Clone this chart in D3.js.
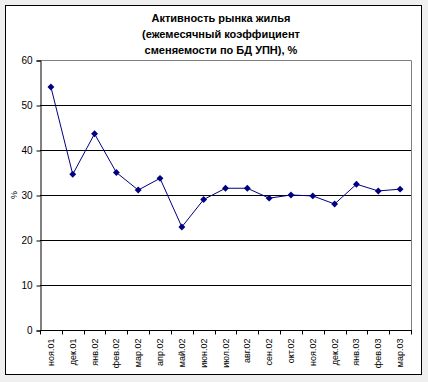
<!DOCTYPE html>
<html>
<head>
<meta charset="utf-8">
<script src="https://cdn.jsdelivr.net/npm/d3@7"></script>
<style>
  body { margin: 0; background: #efefef; }
  svg { display: block; font-family: Arial, "Liberation Sans", sans-serif; }
</style>
</head>
<body>
<svg id="chart" width="428" height="382"></svg>
<script>
// months on the x axis
const months = ["ноя.01","дек.01","янв.02","фев.02","мар.02","апр.02","май.02","июн.02","июл.02",
  "авг.02","сен.02","окт.02","ноя.02","дек.02","янв.03","фев.03","мар.03"]
// monthly turnover coefficient, %
const rates = [54, 34.6, 43.6, 35, 31.1, 33.7, 22.9, 29, 31.5, 31.5, 29.3, 30, 29.8, 28, 32.4, 30.9, 31.3]
const yTicks = [0, 10, 20, 30, 40, 50, 60]
const titleLines = ["Активность рынка жилья", "(ежемесячный коэффициент", "сменяемости по БД УПН), %"]

const svg = d3.select("#chart")
const pLeft = 40, pRight = 411, pTop = 60, pBottom = 330

// chart frame
svg.append("rect").attr("x", 5.5).attr("y", 5.5).attr("width", 416).attr("height", 369)
  .attr("fill", "#fff").attr("stroke", "#000")

const x = d3.scaleBand().domain(months).range([pLeft, pRight])
const y = d3.scaleLinear().domain([0, 60]).range([pBottom, pTop])

// gridlines
svg.append("g").selectAll("line").data(yTicks.filter(d => d > 0 && d < 60)).enter()
  .append("line")
  .attr("x1", pLeft).attr("x2", pRight)
  .attr("y1", d => Math.round(y(d)) + 0.5).attr("y2", d => Math.round(y(d)) + 0.5)
  .attr("stroke", "#000")

// plot border top/right (gray)
svg.append("path")
  .attr("d", `M${pLeft},${pTop + 0.5}H${pRight + 0.5}V${pBottom}`)
  .attr("fill", "none").attr("stroke", "#808080")

// y axis
const yAxis = svg.append("g").attr("transform", `translate(${pLeft + 0.5},0.5)`)
  .call(d3.axisLeft(y).tickValues(yTicks).tickSize(4).tickPadding(4))
yAxis.select(".domain").attr("stroke", "#000")
yAxis.selectAll("text").attr("font-size", 10).attr("fill", "#000")

// x axis, ticks on band edges
const xg = svg.append("g").attr("transform", `translate(0,${pBottom + 0.5})`)
xg.append("line").attr("x1", pLeft).attr("x2", pRight + 1).attr("stroke", "#000")
xg.selectAll(".tk").data(months.concat(["end"])).enter().append("line")
  .attr("x1", (d, i) => Math.round(pLeft + i * x.step()) + 0.5)
  .attr("x2", (d, i) => Math.round(pLeft + i * x.step()) + 0.5)
  .attr("y1", 0).attr("y2", 4).attr("stroke", "#000")
xg.selectAll("text").data(months).enter().append("text")
  .attr("transform", d => `translate(${x(d) + x.bandwidth() / 2 + 3},8) rotate(-90)`)
  .attr("text-anchor", "end")
  .attr("font-size", 9)
  .text(d => d)

// y label
svg.append("text")
  .attr("transform", "translate(17,195) rotate(-90)")
  .attr("text-anchor", "middle")
  .attr("font-size", 9)
  .text("%")

// title
svg.append("g").selectAll("text").data(titleLines).enter().append("text")
  .attr("x", 221).attr("y", (d, i) => 22 + i * 16)
  .attr("text-anchor", "middle")
  .attr("font-size", 11).attr("font-weight", "bold")
  .text(d => d)

// series
const cx = d => x(d) + x.bandwidth() / 2
const line = d3.line().x((d, i) => cx(months[i])).y(d => y(d))
svg.append("path").datum(rates)
  .attr("d", line).attr("fill", "none").attr("stroke", "#000080").attr("stroke-width", 1)

svg.append("g").selectAll("path").data(rates).enter().append("path")
  .attr("d", d3.symbol().type(d3.symbolDiamond2).size(30))
  .attr("transform", (d, i) => `translate(${cx(months[i])},${y(d)})`)
  .attr("fill", "#000080")
</script>
</body>
</html>
